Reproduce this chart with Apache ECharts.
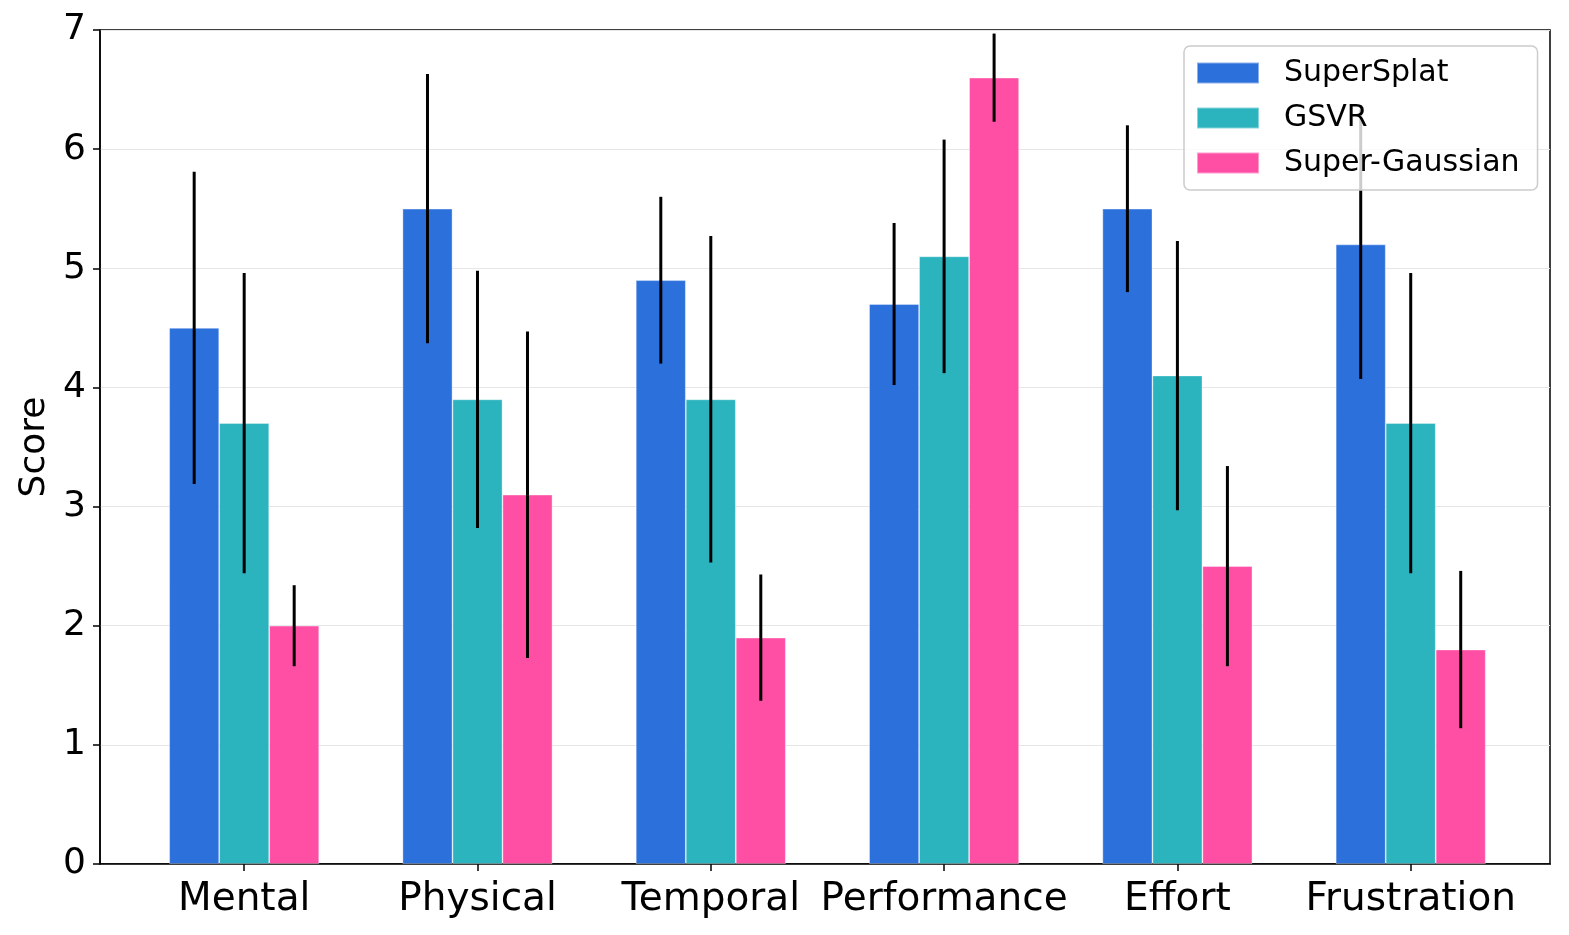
<!DOCTYPE html>
<html>
<head>
<meta charset="utf-8">
<script src="https://cdn.jsdelivr.net/npm/echarts@6/dist/echarts.min.js"></script>
<style>
  html, body { margin: 0; padding: 0; background: #fff; }
  #nasaTlx_div { width: 1569px; height: 935px; }
</style>
</head>
<body>
<div id="nasaTlx_div"></div>
<script>
// NASA-TLX sub scales
var categories = ["Mental", "Physical", "Temporal", "Performance", "Effort", "Frustration"];
var methods = ["SuperSplat", "GSVR", "Super-Gaussian"];

// mean scores
var superSplat = [4.5, 5.5, 4.9, 4.7, 5.5, 5.2];
var gsvr = [3.7, 3.9, 3.9, 5.1, 4.1, 3.7];
var superGaussian = [2.0, 3.1, 1.9, 6.6, 2.5, 1.8];

// std (error bars)
var superSplatErr = [1.31, 1.13, 0.7, 0.68, 0.7, 1.13];
var gsvrErr = [1.26, 1.08, 1.37, 0.98, 1.13, 1.26];
var superGaussianErr = [0.34, 1.37, 0.53, 0.37, 0.84, 0.66];

var yTicks = [0, 1, 2, 3, 4, 5, 6, 7];

var colors = ["#2c70dc", "#2bb3be", "#ff4fa5"];
var barW = 50;

var means = [superSplat, gsvr, superGaussian];
var errs = [superSplatErr, gsvrErr, superGaussianErr];
var catIdx = categories.map(function (c, i) { return i; });

function errRender(k) {
  return function (params, api) {
    var x = api.value(0);
    var p1 = api.coord([x, api.value(2)]);
    var p2 = api.coord([x, api.value(1)]);
    var dx = (k - 1) * barW;
    return {
      type: "line",
      shape: { x1: p1[0] + dx, y1: p1[1], x2: p2[0] + dx, y2: p2[1] },
      style: { stroke: "#000", lineWidth: 3 }
    };
  };
}

var series = [];
means.forEach(function (m, k) {
  series.push({
    name: methods[k],
    type: "bar",
    barWidth: barW,
    barGap: "0%",
    itemStyle: {
      color: colors[k],
      borderColor: "rgba(255,255,255,0.45)",
      borderWidth: 0.8
    },
    data: m.map(function (v, i) { return [i, v]; })
  });
});
means.forEach(function (m, k) {
  series.push({
    name: methods[k] + "_err",
    type: "custom",
    z: 3,
    renderItem: errRender(k),
    data: m.map(function (v, i) { return [i, v - errs[k][i], v + errs[k][i]]; })
  });
});

const myChart = echarts.init(document.getElementById("nasaTlx_div"));
const option = {
  animation: false,
  backgroundColor: "#fff",
  textStyle: { fontFamily: "DejaVu Sans" },
  grid: {
    left: 100,
    right: 19,
    top: 30,
    bottom: 71,
    show: true,
    borderColor: "#000",
    borderWidth: 1.5,
    backgroundColor: "transparent"
  },
  legend: {
    data: methods,
    orient: "vertical",
    left: 1184,
    top: 46,
    padding: [12, 18, 12, 12],
    itemWidth: 62,
    itemHeight: 21,
    itemGap: 15,
    icon: "rect",
    backgroundColor: "rgba(255,255,255,0.8)",
    borderColor: "#cccccc",
    borderWidth: 1.5,
    borderRadius: 6,
    textStyle: {
      fontSize: 30,
      color: "#000",
      fontFamily: "DejaVu Sans",
      padding: [0, 0, 0, 20]
    }
  },
  xAxis: {
    type: "value",
    min: -0.618,
    max: 5.597,
    axisLine: { show: true, onZero: false, lineStyle: { color: "#000", width: 1.5 } },
    axisTick: {
      show: true,
      length: 7,
      customValues: catIdx,
      lineStyle: { color: "#000", width: 1.5 }
    },
    axisLabel: {
      customValues: catIdx,
      fontSize: 39,
      color: "#000",
      margin: 16,
      formatter: function (v) { return categories[Math.round(v)]; }
    },
    splitLine: { show: false }
  },
  yAxis: {
    type: "value",
    min: 0,
    max: 7,
    interval: 1,
    name: "Score",
    nameLocation: "middle",
    nameGap: 46,
    nameTextStyle: { fontSize: 36, color: "#000", fontFamily: "DejaVu Sans" },
    axisLine: { show: true, onZero: false, lineStyle: { color: "#000", width: 1.5 } },
    axisTick: { show: true, length: 7, lineStyle: { color: "#000", width: 1.5 } },
    axisLabel: {
      fontSize: 36,
      color: "#000",
      margin: 14,
      formatter: function (v) { return yTicks.indexOf(v) >= 0 ? String(v) : ""; }
    },
    splitLine: { show: true, lineStyle: { color: "#e6e6e6", width: 1.2 } }
  },
  series: series
};
myChart.setOption(option);
</script>
</body>
</html>
